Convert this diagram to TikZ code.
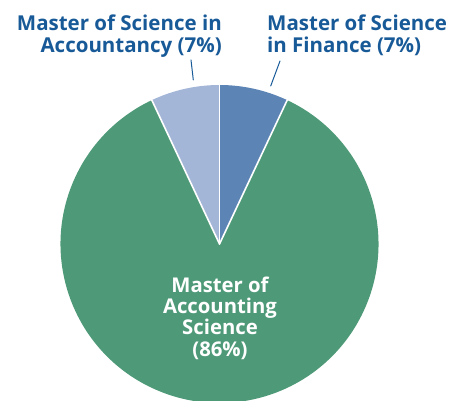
\documentclass[tikz,border=0pt]{standalone}
\usepackage{fontspec}
\setmainfont{Open Sans}
\definecolor{macsgreen}{RGB}{78,154,120}
\definecolor{msfblue}{RGB}{92,133,182}
\definecolor{msalight}{RGB}{164,182,215}
\definecolor{lblblue}{RGB}{24,90,152}
\begin{document}
\begin{tikzpicture}[x=1pt,y=1pt,font=\bfseries\fontsize{20.5}{22}\selectfont,line join=round,line cap=round]
	\useasboundingbox (0,0) rectangle (463,401);
	\coordinate (O) at (219.5,157);
	% slices
	\fill[macsgreen] (O)--++(64.8:159) arc(64.8:-244.8:159)--cycle;
	\fill[msfblue] (O)--++(90:159) arc(90:64.8:159)--cycle;
	\fill[msalight] (O)--++(115.2:159) arc(115.2:90:159)--cycle;
	\foreach \a in {64.8,90,115.2}{\draw[white,line width=1.6pt] (O)--++(\a:159);}
	% labels
	\node[lblblue,align=right,anchor=north east,inner sep=0pt] (msa) at (222,386) {Master of Science in\\Accountancy (7\%)};
	\node[lblblue,align=left,anchor=north west,inner sep=0pt] (msf) at (267,386) {Master of Science\\in Finance (7\%)};
	\node[white,align=center,inner sep=0pt,font=\bfseries\fontsize{20.3}{21.4}\selectfont] (macs) at (220,83) {Master of\\Accounting\\Science\\(86\%)};
	\coordinate (msatop) at (191,341);
	\coordinate (msabot) at (193.3,321);
	\coordinate (msftop) at (280,340);
	\coordinate (msfbot) at (270.7,315);
	\draw[lblblue,line width=1pt] (msatop)--(msabot) (msftop)--(msfbot);
\end{tikzpicture}
\end{document}
